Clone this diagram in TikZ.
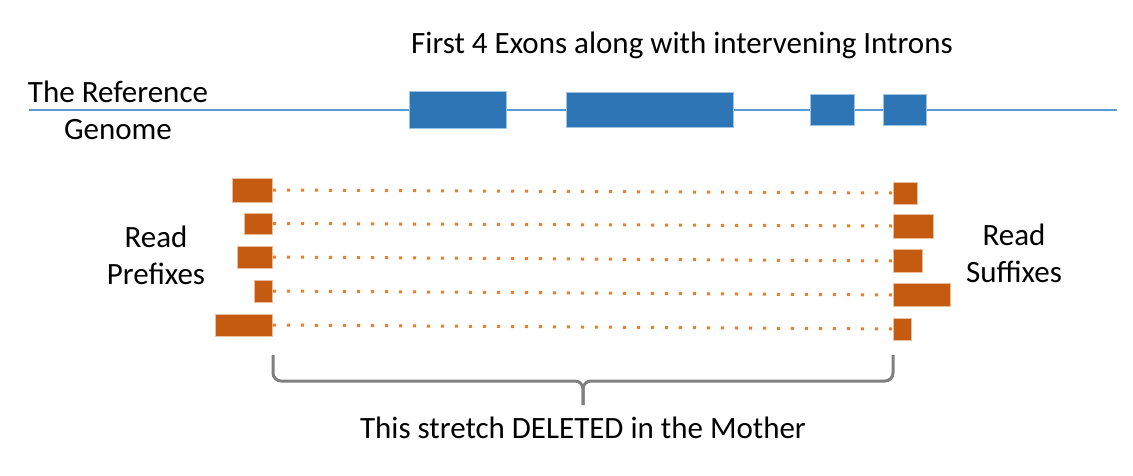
\documentclass[tikz,border=0pt]{standalone}
\usepackage{fontspec}
\setmainfont{Carlito}
\usepackage{tikz}
\usetikzlibrary{positioning,calc}
\definecolor{exonC}{HTML}{2E75B6}
\definecolor{lineC}{HTML}{5B9BD5}
\definecolor{barC}{HTML}{C55A11}
\definecolor{dotC}{HTML}{ED7D31}
\definecolor{brcC}{HTML}{808080}
\tikzset{
  exon/.style={fill=exonC,draw=lineC!60,line width=0.8pt,inner sep=0pt},
  rbar/.style={fill=barC,draw=barC!40,line width=0.8pt,inner sep=0pt},
  lbl/.style={align=center,inner sep=0pt,font=\fontsize{31}{37}\selectfont},
  gline/.style={draw=lineC,line width=1.5pt},
  dots/.style={draw=dotC,line width=3pt,dash pattern=on 3pt off 11pt},
  brc/.style={draw=brcC,line width=3pt,rounded corners=8pt},
}
\begin{document}
\begin{tikzpicture}[x=1pt,y=-1pt]
  \useasboundingbox (0,0) rectangle (1133,475);
  % reference genome with exons
  \coordinate (g0) at (29,110);
  \coordinate (g1) at (1117,110);
  \draw[gline] (g0) -- (g1);
  \node[exon,minimum width=97pt,minimum height=37pt] (ex1) at (457.5,109.5) {};
  \node[exon,minimum width=167pt,minimum height=35pt] (ex2) at (649.5,109.5) {};
  \node[exon,minimum width=44pt,minimum height=31pt] (ex3) at (832,109.5) {};
  \node[exon,minimum width=43pt,minimum height=31pt] (ex4) at (904.5,109.5) {};
  \node[lbl] (ttl) at (682,45) {First 4 Exons along with intervening Introns};
  \node[lbl] (ref) at (118,110) {The Reference\\Genome};
  % read prefixes
  \node[rbar,anchor=east,minimum width=40pt,minimum height=24pt] (p1) at (273,190) {};
  \node[rbar,anchor=east,minimum width=28pt,minimum height=21pt] (p2) at (273,223.5) {};
  \node[rbar,anchor=east,minimum width=35pt,minimum height=22pt] (p3) at (273,257) {};
  \node[rbar,anchor=east,minimum width=18pt,minimum height=22pt] (p4) at (273,291) {};
  \node[rbar,anchor=east,minimum width=57pt,minimum height=22pt] (p5) at (273,325) {};
  % read suffixes
  \node[rbar,anchor=west,minimum width=24pt,minimum height=22pt] (s1) at (893,193) {};
  \node[rbar,anchor=west,minimum width=40pt,minimum height=24pt] (s2) at (893,226) {};
  \node[rbar,anchor=west,minimum width=29pt,minimum height=23pt] (s3) at (893,261) {};
  \node[rbar,anchor=west,minimum width=57pt,minimum height=23pt] (s4) at (893,295) {};
  \node[rbar,anchor=west,minimum width=18pt,minimum height=22pt] (s5) at (893,329) {};
  \draw[dots] (p1.east) -- (s1.west);
  \draw[dots] (p2.east) -- (s2.west);
  \draw[dots] (p3.east) -- (s3.west);
  \draw[dots] (p4.east) -- (s4.west);
  \draw[dots] (p5.east) -- (s5.west);
  \node[lbl] (pre) at (156,255.5) {Read\\Prefixes};
  \node[lbl] (suf) at (1014,253) {Read\\Suffixes};
  % deleted stretch
  \coordinate (bl) at (273,355);
  \coordinate (br) at (893,355);
  \coordinate (bm) at (583,381);
  \coordinate (tip) at (583,405);
  \draw[brc] (bl) |- (bm) -- (tip);
  \draw[brc] (br) |- (bm) -- (tip);
  \node[lbl] (del) at (583,428) {This stretch DELETED in the Mother};
\end{tikzpicture}
\end{document}
